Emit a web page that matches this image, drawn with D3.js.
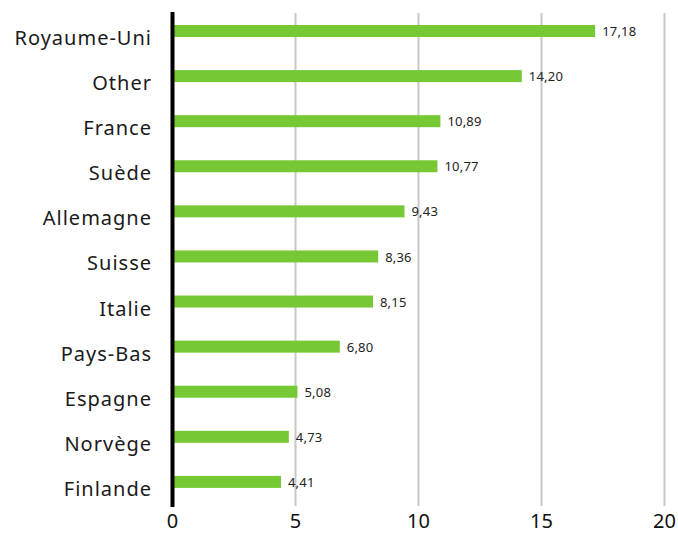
<!DOCTYPE html>
<html>
<head>
<meta charset="utf-8">
<script src="https://cdn.jsdelivr.net/npm/d3@7"></script>
<style>
  body { margin: 0; background: #fff; }
  text { font-family: "Noto Sans", sans-serif; }
</style>
</head>
<body>
<div id="chart"></div>
<script>
// Chart data
const countries = ["Royaume-Uni", "Other", "France", "Suède", "Allemagne", "Suisse",
                   "Italie", "Pays-Bas", "Espagne", "Norvège", "Finlande"];
const values = [17.18, 14.20, 10.89, 10.77, 9.43, 8.36, 8.15, 6.80, 5.08, 4.73, 4.41];
const ticks = [0, 5, 10, 15, 20];

const width = 678, height = 534;
const data = countries.map((c, i) => ({ name: c, value: values[i] }));

const svg = d3.select("#chart")
    .append("svg")
    .attr("width", width)
    .attr("height", height);

const x = d3.scaleLinear().domain([0, 20]).range([172.5, 664.5]);
const y = d3.scaleBand().domain(countries).range([8.5, 504.5]);

const fmt = v => d3.format(".2f")(v).replace(".", ",");

// Gridlines
svg.append("g")
    .selectAll("line")
    .data(ticks.slice(1))
    .enter().append("line")
    .attr("x1", d => x(d))
    .attr("x2", d => x(d))
    .attr("y1", 13)
    .attr("y2", 506)
    .attr("stroke", "#c8c8c8")
    .attr("stroke-width", 2);

// Bars
svg.append("g")
    .selectAll("rect")
    .data(data)
    .enter().append("rect")
    .attr("x", x(0))
    .attr("y", d => y(d.name) + 16.5)
    .attr("width", d => x(d.value) - x(0))
    .attr("height", 12)
    .attr("fill", "#76c934");

// Value labels
svg.append("g")
    .selectAll("text")
    .data(data)
    .enter().append("text")
    .attr("x", d => x(d.value) + 7)
    .attr("y", d => y(d.name) + 23)
    .attr("dy", "0.35em")
    .attr("font-size", "13px")
    .attr("letter-spacing", "0.2px")
    .attr("fill", "#222")
    .text(d => fmt(d.value));

// Category labels
svg.append("g")
    .selectAll("text")
    .data(data)
    .enter().append("text")
    .attr("x", 152)
    .attr("y", d => y(d.name) + 29.5)
    .attr("dy", "0.35em")
    .attr("text-anchor", "end")
    .attr("font-size", "20px")
    .attr("letter-spacing", "1px")
    .attr("fill", "#1a1a1a")
    .text(d => d.name);

// Zero axis line
svg.append("line")
    .attr("x1", x(0))
    .attr("x2", x(0))
    .attr("y1", 12)
    .attr("y2", 507)
    .attr("stroke", "#000")
    .attr("stroke-width", 4);

// X tick labels
svg.append("g")
    .selectAll("text")
    .data(ticks)
    .enter().append("text")
    .attr("x", d => x(d))
    .attr("y", 528)
    .attr("text-anchor", "middle")
    .attr("font-size", "20px")
    .attr("fill", "#111")
    .text(d => d);
</script>
</body>
</html>
